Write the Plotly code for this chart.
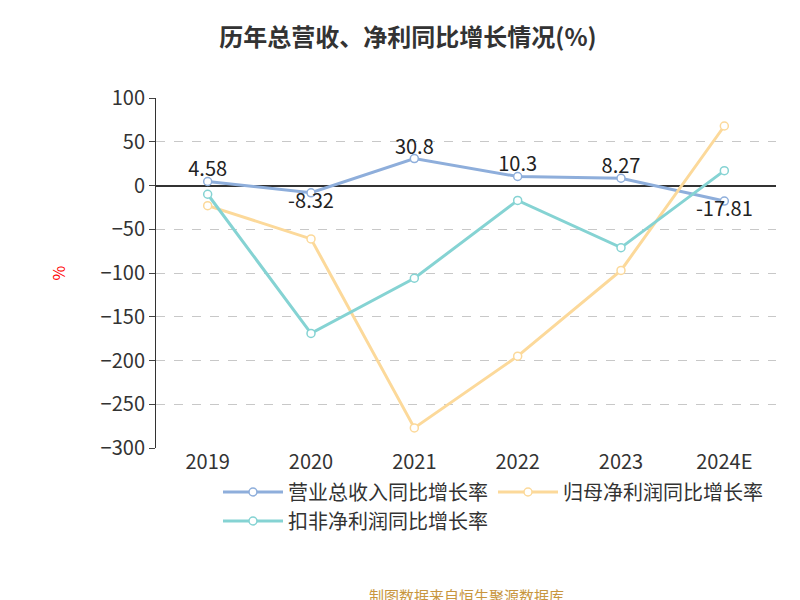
import plotly.graph_objects as go

years = ["2019", "2020", "2021", "2022", "2023", "2024E"]
revenue = [4.58, -8.32, 30.8, 10.3, 8.27, -17.81]
net_profit = [-23, -61, -277, -195, -97, 68]
deducted = [-10, -169, -106, -17, -71, 17]
revenue_labels = ["4.58", "-8.32", "30.8", "10.3", "8.27", "-17.81"]

fig = go.Figure()
series = [
    ("营业总收入同比增长率", revenue, "#8eaedb"),
    ("归母净利润同比增长率", net_profit, "#fcd99a"),
    ("扣非净利润同比增长率", deducted, "#85d3d3"),
]
for name, vals, color in series:
    fig.add_trace(go.Scatter(
        x=years, y=vals, name=name, mode="lines+markers",
        line=dict(color=color, width=3),
        marker=dict(symbol="circle", size=8, color="white", line=dict(color=color, width=1.5)),
        cliponaxis=False,
    ))

# 营收同比数值标签
fig.add_trace(go.Scatter(
    x=years, y=revenue, mode="text", text=revenue_labels,
    textposition=["top center", "bottom center", "top center", "top center", "top center", "bottom center"],
    textfont=dict(size=20, color="#222"), showlegend=False, hoverinfo="skip", cliponaxis=False,
))

fig.update_layout(
    width=800, height=600,
    paper_bgcolor="white", plot_bgcolor="white",
    margin=dict(l=148, r=32, t=90, b=160),
    font=dict(family="Noto Sans CJK SC, sans-serif", color="#333"),
    title=dict(text="<b>历年总营收、净利同比增长情况(%)</b>", x=0.5, y=0.965,
               xanchor="center", font=dict(size=24, color="#333")),
    xaxis=dict(type="category", range=[-0.5, 5.5], showgrid=False, showline=False,
               ticks="", tickfont=dict(size=20, color="#333")),
    yaxis=dict(range=[-300, 100], dtick=50, showgrid=True, gridcolor="#c8c8c8",
               griddash="dash", zeroline=True, zerolinecolor="#333", zerolinewidth=1.5,
               showline=True, linecolor="#333", ticks="outside", ticklen=6,
               tickfont=dict(size=20, color="#333"),
               title=dict(text="%", font=dict(size=16, color="red"), standoff=30)),
    legend=dict(orientation="h", x=0.1, y=-0.07, xanchor="left", yanchor="top",
                font=dict(size=20, color="#333"), itemwidth=60),
    annotations=[dict(text="制图数据来自恒生聚源数据库", x=0.5, y=-0.42, xref="paper", yref="paper",
                      yanchor="middle", showarrow=False, font=dict(size=15, color="#c8963e"))],
)
fig.write_html("out.html")
